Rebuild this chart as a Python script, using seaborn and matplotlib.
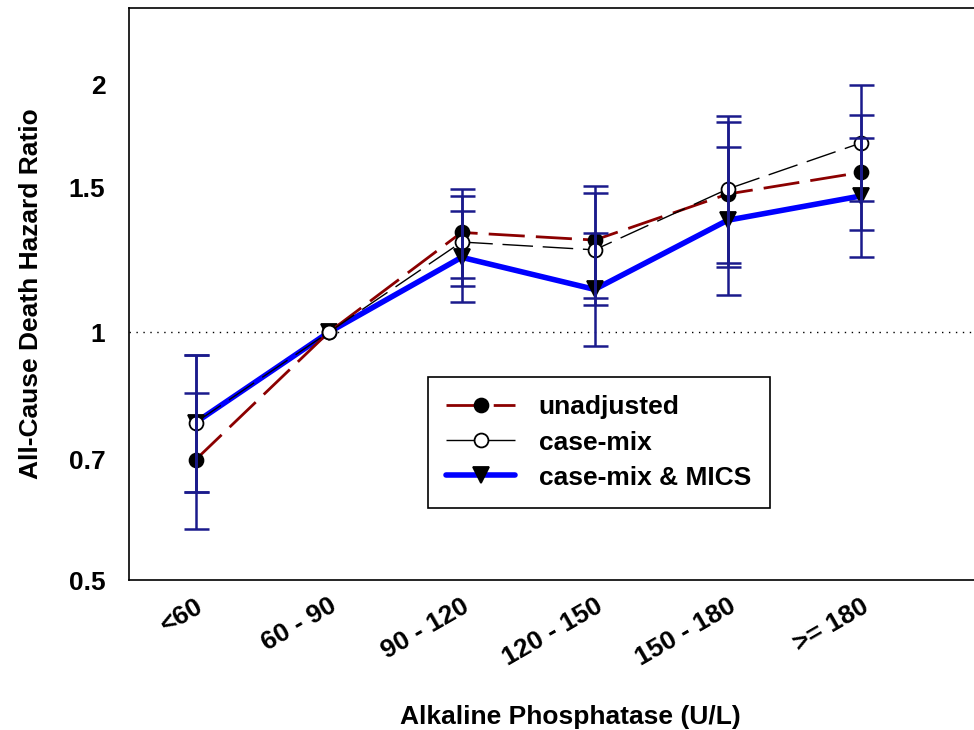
import numpy as np
import pandas as pd
import matplotlib
matplotlib.use("Agg")
import matplotlib.pyplot as plt
import seaborn as sns

## DATA
categories = ["<60", "60 - 90", "90 - 120", "120 - 150", "150 - 180", ">= 180"]

unadj_hr = [0.70, 1.00, 1.323, 1.295, 1.473, 1.565]
unadj_lo = [0.576, np.nan, 1.166, 1.102, 1.201, 1.331]
unadj_hi = [0.845, np.nan, 1.494, 1.505, 1.804, 1.840]

casemix_hr = [0.777, 1.00, 1.288, 1.260, 1.494, 1.699]
casemix_lo = [0.640, np.nan, 1.139, 1.079, 1.216, 1.445]
casemix_hi = [0.940, np.nan, 1.466, 1.477, 1.835, 2.001]

mics_hr = [0.777, 1.00, 1.234, 1.128, 1.369, 1.465]
mics_lo = [0.640, np.nan, 1.089, 0.962, 1.110, 1.235]
mics_hi = [0.940, np.nan, 1.403, 1.320, 1.682, 1.724]

series_names = ["unadjusted", "case-mix", "case-mix & MICS"]
yticks = [0.5, 0.7, 1, 1.5, 2]
ytick_labels = ["0.5", "0.7", "1", "1.5", "2"]


## SETUP
sns.set_style("white")
plt.rcParams["font.family"] = ["Liberation Sans", "DejaVu Sans"]
plt.rcParams["font.weight"] = "bold"
for k in ["text.color", "axes.labelcolor", "xtick.color", "ytick.color"]:
  plt.rcParams[k] = "black"

FS = 19

fig = plt.figure(figsize=(9.74, 7.30), dpi=100)
ax = fig.add_axes([129 / 974, 150 / 730, (1011 - 129) / 974, (580 - 8) / 730])

x = np.arange(len(categories))
rows = []
for name, hr, lo, hi in zip(series_names,
                            [unadj_hr, casemix_hr, mics_hr],
                            [unadj_lo, casemix_lo, mics_lo],
                            [unadj_hi, casemix_hi, mics_hi]):
  for i in range(len(categories)):
    rows.append({"series": name, "x": x[i], "hr": hr[i], "lo": lo[i], "hi": hi[i]})
df = pd.DataFrame(rows)

styles = {
  "unadjusted": dict(color="#8b0000", lw=2, dashes=(13, 4), marker="o",
                     mfc="black", mec="black", ms=10, z=3.1),
  "case-mix": dict(color="black", lw=1, dashes=(22, 7), marker="o",
                   mfc="white", mec="black", ms=10, z=3.2),
  "case-mix & MICS": dict(color="#0000ff", lw=4, dashes=None, marker="v",
                          mfc="black", mec="black", ms=11, z=3.0),
}

# reference line at HR = 1
ax.axhline(1, color="black", lw=1, ls=(0, (1, 4)), zorder=1)

# draw blue first so the circles sit on top, like the original
handles = {}
for name in ["case-mix & MICS", "unadjusted", "case-mix"]:
  sub = df[df.series == name]
  st = styles[name]
  sns.lineplot(data=sub, x="x", y="hr", ax=ax, color=st["color"], lw=st["lw"],
               marker=st["marker"], markerfacecolor=st["mfc"],
               markeredgecolor=st["mec"], markersize=st["ms"],
               markeredgewidth=1.3, label=name, zorder=st["z"])
  line = ax.get_lines()[-1]
  if st["dashes"] is not None:
    line.set_dashes(st["dashes"])
  handles[name] = line
  ok = sub.lo.notna()
  ax.errorbar(sub.x[ok], sub.hr[ok],
              yerr=[sub.hr[ok] - sub.lo[ok], sub.hi[ok] - sub.hr[ok]],
              fmt="none", ecolor="#1a1a8c", elinewidth=1.8, capsize=9,
              capthick=1.8, zorder=4)

ax.set_yscale("log")
ax.set_ylim(0.5, 2.48)
ax.set_xlim(-0.5, 6.13)
ax.set_yticks(yticks)
ax.set_yticklabels(ytick_labels)
ax.yaxis.set_minor_locator(matplotlib.ticker.NullLocator())
ax.tick_params(axis="y", length=0, pad=17, labelsize=FS)
ax.set_yticks([1], minor=True)
ax.tick_params(axis="y", which="minor", length=7, width=1.2, direction="out")

ax.set_xticks(x)
ax.set_xticklabels(categories, rotation=30, ha="right", rotation_mode="anchor")
ax.tick_params(axis="x", length=7, width=1.2, direction="out", labelsize=FS, pad=3)
for lab in ax.get_xticklabels() + ax.get_yticklabels():
  lab.set_fontweight("bold")

for s in ["left", "bottom", "top"]:
  ax.spines[s].set_color("black")
  ax.spines[s].set_linewidth(1.2)
ax.spines["right"].set_visible(False)

ax.set_xlabel("Alkaline Phosphatase (U/L)", fontsize=FS, fontweight="bold")
ax.set_ylabel("All-Cause Death Hazard Ratio", fontsize=FS, fontweight="bold")
ax.xaxis.set_label_coords((570 - 129) / (1011 - 129), -(717 - 580) / 572)
ax.yaxis.set_label_coords(-(129 - 31) / 882, 0.5)
ax.xaxis.label.set_va("center")
ax.yaxis.label.set_va("center")

leg = ax.legend([handles[n] for n in series_names], series_names,
                loc="upper left",
                bbox_to_anchor=((428 - 129) / 882, (580 - 377) / 572),
                prop={"size": FS, "weight": "bold"}, frameon=True, fancybox=False,
                borderpad=0.7, handlelength=2.6, handletextpad=0.9,
                labelspacing=0.42, edgecolor="black", borderaxespad=0)
leg.get_frame().set_linewidth(1.2)
leg.get_frame().set_facecolor("white")
leg.get_frame().set_alpha(1)

fig.savefig("out.png", dpi=100)
